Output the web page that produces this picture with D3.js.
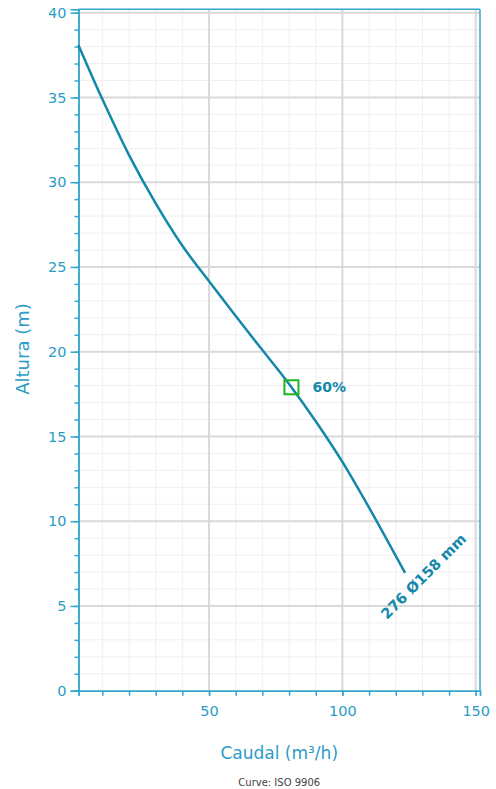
<!DOCTYPE html>
<html><head><meta charset="utf-8">
<script src="https://cdn.jsdelivr.net/npm/d3@7"></script>
<style>html,body{margin:0;padding:0;background:#fff;}svg{display:block;font-family:"DejaVu Sans",Verdana,sans-serif;}</style>
</head><body>
<script>
const flowValues = [1, 10, 20, 30, 40, 50, 60, 70, 80, 90, 100, 110, 123.5];
const headValues = [38.1, 34.9, 31.6, 28.75, 26.25, 24.15, 22.1, 20.1, 18.1, 15.9, 13.5, 10.8, 6.95];
const xTickLabels = [50, 100, 150];
const yTickLabels = [0, 5, 10, 15, 20, 25, 30, 35, 40];
const efficiencyPoint = {flow: 80.9, head: 17.9, label: "60%"};
const curveLabel = "276 Ø158 mm";
const xTitle = "Caudal (m³/h)";
const yTitle = "Altura (m)";
const footnote = "Curve: ISO 9906";
const xDomain = [1.05, 151.6];
const yDomain = [0, 40.2];

const W = 496, H = 789;
const L = 78.5, R = 480, T = 9.3, B = 690.7;
const axisColor = "#35a6cd", textColor = "#2a9dc5", curveColor = "#1388aa";

const svg = d3.select("body").append("svg").attr("width", W).attr("height", H);
const x = d3.scaleLinear().domain(xDomain).range([L, R]);
const y = d3.scaleLinear().domain(yDomain).range([B, T]);

const g = svg.append("g");
g.selectAll(".vmin").data(d3.range(10, 151, 10).filter(v => v % 50 !== 0)).join("line")
  .attr("x1", d => x(d)).attr("x2", d => x(d)).attr("y1", T).attr("y2", B)
  .attr("stroke", "#efefef").attr("stroke-width", 1);
g.selectAll(".hmin").data(d3.range(1, 41, 1).filter(v => v % 5 !== 0)).join("line")
  .attr("x1", L).attr("x2", R).attr("y1", d => y(d)).attr("y2", d => y(d))
  .attr("stroke", "#efefef").attr("stroke-width", 1);
g.selectAll(".vmaj").data(xTickLabels).join("line")
  .attr("x1", d => x(d)).attr("x2", d => x(d)).attr("y1", T).attr("y2", B)
  .attr("stroke", "#d9d9d9").attr("stroke-width", 2);
g.selectAll(".hmaj").data(yTickLabels.filter(v => v > 0)).join("line")
  .attr("x1", L).attr("x2", R).attr("y1", d => y(d)).attr("y2", d => y(d))
  .attr("stroke", "#d9d9d9").attr("stroke-width", 2);

svg.append("line").attr("x1", L).attr("x2", R).attr("y1", T).attr("y2", T).attr("stroke", axisColor).attr("stroke-width", 1.5);
svg.append("line").attr("x1", R).attr("x2", R).attr("y1", T).attr("y2", B).attr("stroke", axisColor).attr("stroke-width", 1.5);

const yAxis = svg.append("g").attr("transform", `translate(${L},0)`);
yAxis.call(d3.axisLeft(y).tickValues(d3.range(0, 41, 1)).tickSize(4).tickFormat(() => ""));
yAxis.append("g").call(d3.axisLeft(y).tickValues(yTickLabels).tickSize(8).tickPadding(4));
yAxis.selectAll("path").attr("stroke", axisColor).attr("stroke-width", 1.5);
yAxis.selectAll("line").attr("stroke", axisColor).attr("stroke-width", 1.5);
yAxis.selectAll("text").attr("fill", textColor).attr("font-size", 14.5).attr("font-family", '"DejaVu Sans",Verdana,sans-serif');

const xAxis = svg.append("g").attr("transform", `translate(0,${B})`);
xAxis.call(d3.axisBottom(x).tickValues(d3.range(10, 151, 10)).tickSize(5).tickFormat(() => ""));
xAxis.append("g").call(d3.axisBottom(x).tickValues(xTickLabels).tickSize(5).tickPadding(10));
xAxis.selectAll("path").attr("stroke", axisColor).attr("stroke-width", 1.5);
xAxis.selectAll("line").attr("stroke", axisColor).attr("stroke-width", 1.5);
xAxis.selectAll("text").attr("fill", textColor).attr("font-size", 14.5).attr("font-family", '"DejaVu Sans",Verdana,sans-serif');

const pts = flowValues.map((f, i) => [f, headValues[i]]);
const line = d3.line().x(d => x(d[0])).y(d => y(d[1])).curve(d3.curveCatmullRom.alpha(0.5));
svg.append("path").attr("d", line(pts)).attr("fill", "none").attr("stroke", curveColor).attr("stroke-width", 2.5);

const ex = x(efficiencyPoint.flow), ey = y(efficiencyPoint.head);
svg.append("rect").attr("x", ex - 7).attr("y", ey - 7).attr("width", 14).attr("height", 14)
  .attr("fill", "none").attr("stroke", "#1fb31f").attr("stroke-width", 2);
svg.append("text").attr("x", ex + 21).attr("y", ey + 5).text(efficiencyPoint.label)
  .attr("fill", curveColor).attr("font-weight", "bold").attr("font-size", 14);

const lastF = flowValues[flowValues.length - 1], lastH = headValues[headValues.length - 1];
const lx = x(lastF) - 18, ly = y(lastH) + 47;
svg.append("text").attr("transform", `translate(${lx},${ly}) rotate(-45)`).text(curveLabel)
  .attr("fill", curveColor).attr("font-weight", "bold").attr("font-size", 14.5);

svg.append("text").attr("x", (L + R) / 2).attr("y", 759).attr("text-anchor", "middle")
  .attr("fill", textColor).attr("font-size", 17).text(xTitle);
svg.append("text").attr("transform", `translate(29,349) rotate(-90)`).attr("text-anchor", "middle")
  .attr("fill", textColor).attr("font-size", 18).text(yTitle);
svg.append("text").attr("x", (L + R) / 2).attr("y", 786).attr("text-anchor", "middle")
  .attr("fill", "#444").attr("font-size", 10).text(footnote);
</script>
</body></html>
